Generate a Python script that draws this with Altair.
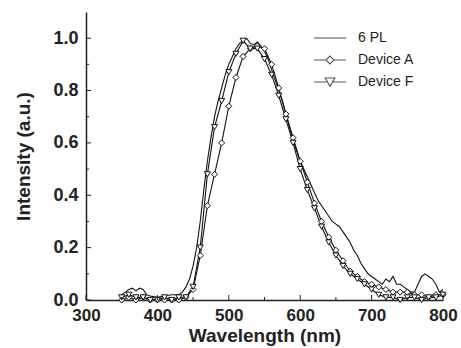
import altair as alt
import pandas as pd

# ---- data ----
pl_wl = [350, 355, 360, 365, 370, 375, 380, 385, 390, 400, 410, 420, 430, 435, 440, 445,
         450, 455, 460, 465, 470, 475, 480, 485, 490, 495, 500, 505, 510, 515, 520, 525,
         530, 535, 540, 545, 550, 555, 560, 565, 570, 575, 580, 585, 590, 595, 600, 605,
         610, 615, 620, 625, 630, 635, 640, 645, 650, 655, 660, 665, 670, 675, 680, 685,
         690, 695, 700, 705, 710, 715, 720, 725, 730, 735, 740, 745, 750, 755, 760, 765,
         770, 775, 780, 785, 790, 795, 800]
pl_int = [0.02, 0.03, 0.04, 0.045, 0.035, 0.045, 0.04, 0.02, 0.015, 0.01, 0.015, 0.02, 0.02, 0.03, 0.05, 0.08,
          0.13, 0.20, 0.30, 0.42, 0.53, 0.62, 0.70, 0.76, 0.81, 0.86, 0.90, 0.93, 0.96, 0.98, 0.99, 1.00,
          0.98, 0.975, 0.985, 0.97, 0.95, 0.92, 0.88, 0.84, 0.80, 0.76, 0.71, 0.66, 0.61, 0.57, 0.53, 0.50,
          0.47, 0.44, 0.41, 0.38, 0.36, 0.34, 0.32, 0.30, 0.29, 0.28, 0.26, 0.24, 0.22, 0.19, 0.17, 0.14,
          0.12, 0.10, 0.09, 0.08, 0.07, 0.06, 0.08, 0.07, 0.09, 0.06, 0.06, 0.05, 0.04, 0.03, 0.03, 0.06,
          0.09, 0.10, 0.09, 0.08, 0.06, 0.03, 0.04]

dev_wl = [350, 360, 370, 380, 390, 400, 410, 420, 430, 440, 450, 460, 470, 480, 490, 500,
          510, 520, 530, 540, 550, 560, 570, 580, 590, 600, 610, 620, 630, 640, 650, 660,
          670, 680, 690, 700, 710, 720, 730, 740, 750, 760, 770, 780, 790, 800]
devA_int = [0.00, 0.01, 0.00, 0.01, 0.00, 0.00, 0.00, 0.00, 0.00, 0.01, 0.04, 0.17, 0.36, 0.48, 0.60, 0.74,
            0.85, 0.93, 0.96, 0.97, 0.96, 0.90, 0.81, 0.71, 0.62, 0.53, 0.45, 0.37, 0.30, 0.24, 0.19, 0.15,
            0.11, 0.09, 0.07, 0.06, 0.05, 0.04, 0.03, 0.03, 0.03, 0.02, 0.02, 0.01, 0.02, 0.02]
devF_int = [0.01, 0.02, 0.01, 0.01, 0.00, 0.00, 0.01, 0.00, 0.01, 0.01, 0.05, 0.20, 0.48, 0.66, 0.76, 0.87,
            0.94, 0.99, 0.96, 0.96, 0.92, 0.86, 0.78, 0.69, 0.60, 0.50, 0.42, 0.35, 0.28, 0.22, 0.17, 0.13,
            0.10, 0.08, 0.06, 0.04, 0.02, 0.01, 0.01, 0.00, 0.01, 0.01, 0.00, 0.01, 0.01, 0.02]

series_names = ["6 PL", "Device A", "Device F"]
x_ticks = [300, 400, 500, 600, 700, 800]
x_minor = [350, 450, 550, 650, 750]
y_ticks = [0.0, 0.2, 0.4, 0.6, 0.8, 1.0]
y_minor = [0.1, 0.3, 0.5, 0.7, 0.9]

# ---- tables ----
rows = [{"wl": w, "val": v, "series": "6 PL"} for w, v in zip(pl_wl, pl_int)]
rows += [{"wl": w, "val": v, "series": "Device A"} for w, v in zip(dev_wl, devA_int)]
rows += [{"wl": w, "val": v, "series": "Device F"} for w, v in zip(dev_wl, devF_int)]
df = pd.DataFrame(rows)
dev_df = df[df.series != "6 PL"]

W, H = 357, 288
FONT = "Liberation Sans"

xs = alt.Scale(domain=[300, 800], nice=False, zero=False, padding=0)
ys = alt.Scale(domain=[0, 1.1], nice=False, zero=True, padding=0)

xenc = alt.X("wl:Q", scale=xs,
             axis=alt.Axis(title="Wavelength (nm)", values=x_ticks, ticks=False, grid=False,
                           labelFlush=False, labelOverlap=False,
                           labelFont=FONT, labelFontSize=17, labelFontWeight="bold", labelColor="#222",
                           labelPadding=7, titleFont=FONT, titleFontSize=19, titleFontWeight="bold",
                           titleColor="#222", titlePadding=3, domainColor="#222", domainWidth=1.5))
yenc = alt.Y("val:Q", scale=ys,
             axis=alt.Axis(title="Intensity (a.u.)", values=y_ticks, format=".1f", ticks=False, grid=False,
                           labelFlush=False, labelOverlap=False,
                           labelFont=FONT, labelFontSize=18, labelFontWeight="bold", labelColor="#222",
                           labelPadding=8, titleFont=FONT, titleFontSize=19, titleFontWeight="bold",
                           titleColor="#222", titlePadding=19, domainColor="#222", domainWidth=1.5))

lines = alt.Chart(df).mark_line(color="#111", strokeWidth=1.1).encode(
    x=xenc, y=yenc, detail="series:N")

pts = alt.Chart(dev_df).mark_point(filled=False, fill="white", fillOpacity=1, stroke="#111",
                                    strokeWidth=1, size=36).encode(
    x=alt.X("wl:Q", scale=xs), y=alt.Y("val:Q", scale=ys),
    shape=alt.Shape("series:N", scale=alt.Scale(domain=["Device A", "Device F"],
                                                range=["diamond", "triangle-down"]), legend=None))

legend_paths = [
    "M-1,0L1,0",
    "M-1,0L-0.25,0M0.25,0L1,0M-0.25,0L0,-0.25L0.25,0L0,0.25Z",
    "M-1,0L-0.17,0M0.17,0L1,0M-0.3,-0.25L0.3,-0.25L0,0.27Z",
]
leg_df = pd.DataFrame({"series": series_names})
leg = alt.Chart(leg_df).mark_point(filled=False, stroke="#111", strokeWidth=1.1, clip=True).encode(
    x=alt.value(-300), y=alt.value(-300),
    shape=alt.Shape("series:N", scale=alt.Scale(domain=series_names, range=legend_paths),
                    legend=alt.Legend(title=None, orient="none", legendX=227, legendY=17,
                                      symbolSize=1024, symbolStrokeColor="#111", symbolStrokeWidth=1.1,
                                      symbolFillColor="white", clipHeight=18, rowPadding=4,
                                      labelFont=FONT, labelFontSize=14, labelColor="#222",
                                      labelOffset=11, padding=0)))

xt_major = alt.Chart(pd.DataFrame({"t": x_ticks})).mark_rule(color="#222", strokeWidth=1).encode(
    x=alt.X("t:Q", scale=xs), y=alt.value(H), y2=alt.value(H - 5))
xt_minor = alt.Chart(pd.DataFrame({"t": x_minor})).mark_rule(color="#222", strokeWidth=1).encode(
    x=alt.X("t:Q", scale=xs), y=alt.value(H), y2=alt.value(H - 3))
yt_major = alt.Chart(pd.DataFrame({"t": y_ticks})).mark_rule(color="#222", strokeWidth=1).encode(
    y=alt.Y("t:Q", scale=ys), x=alt.value(0), x2=alt.value(5))
yt_minor = alt.Chart(pd.DataFrame({"t": y_minor})).mark_rule(color="#222", strokeWidth=1).encode(
    y=alt.Y("t:Q", scale=ys), x=alt.value(0), x2=alt.value(3))

chart = alt.layer(lines, pts, leg, xt_major, xt_minor, yt_major, yt_minor).resolve_scale(
    shape="independent"
).properties(
    width=W, height=H,
    autosize=alt.AutoSizeParams(type="none"),
    padding={"left": 86, "top": 12, "right": 18, "bottom": 48},
    background="white",
).configure_view(stroke=None)

chart.save("out.html", embed_options={"renderer": "svg", "actions": False})
